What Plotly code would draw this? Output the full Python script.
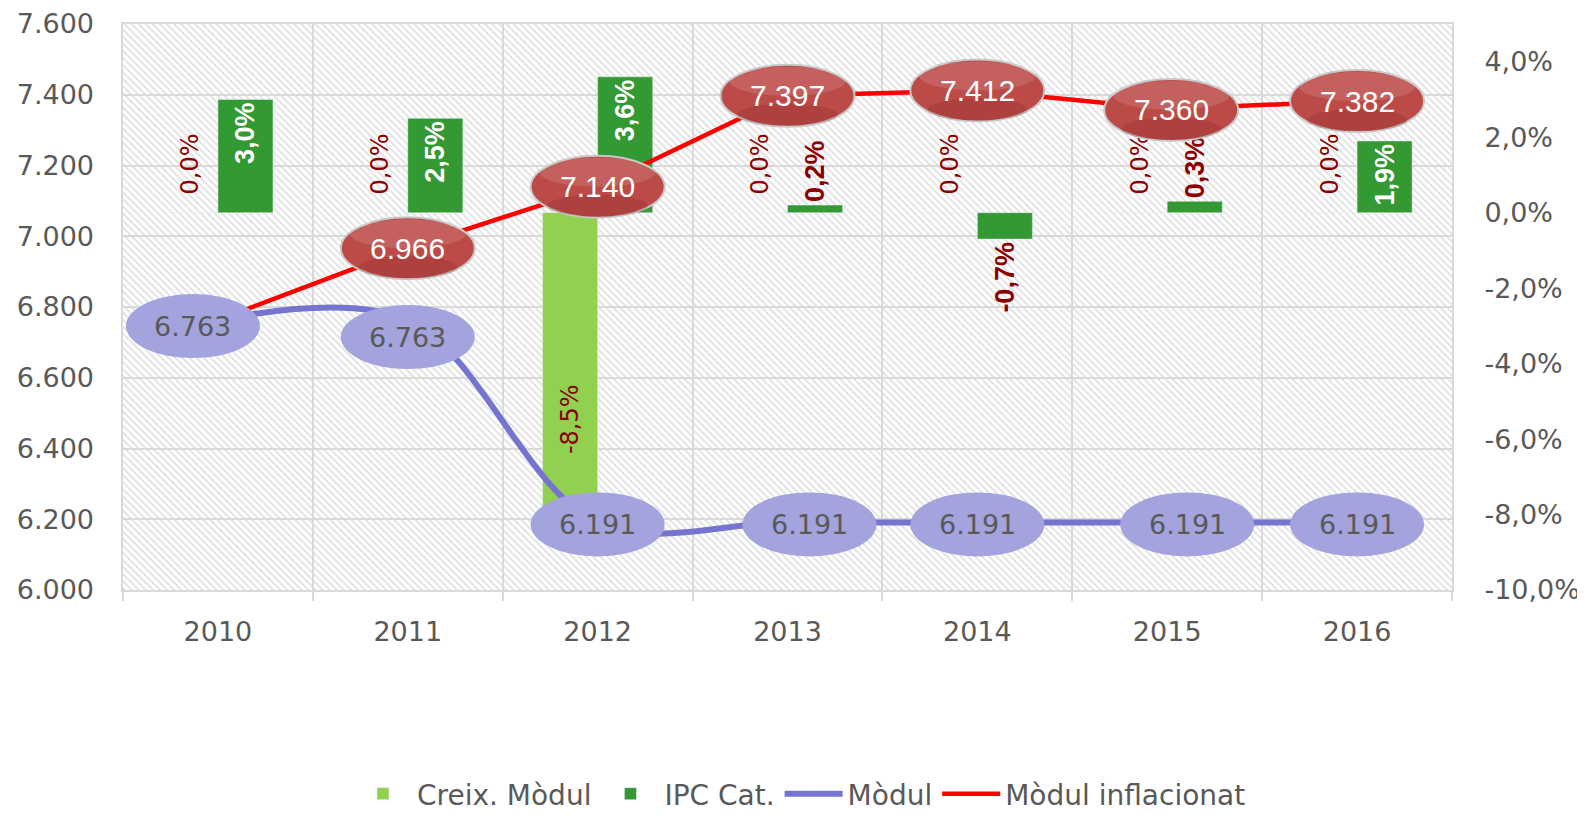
import base64
import plotly.graph_objects as go

# ---------------- data ----------------
years = ["2010", "2011", "2012", "2013", "2014", "2015", "2016"]
creix_modul = [0.0, 0.0, -8.5, 0.0, 0.0, 0.0, 0.0]          # %
ipc_cat = [3.0, 2.5, 3.6, 0.2, -0.7, 0.3, 1.9]               # %
modul = [6763, 6763, 6191, 6191, 6191, 6191, 6191]
modul_inflacionat = [6763, 6966, 7140, 7397, 7412, 7360, 7382]
left_ticks = [6000, 6200, 6400, 6600, 6800, 7000, 7200, 7400, 7600]
right_ticks = [-10, -8, -6, -4, -2, 0, 2, 4]

# ---------------- styles ----------------
FONT = "DejaVu Sans"
GREY_TXT = "#595959"
GRID = "#D9D9D9"
DARKRED = "#8B0000"
modul_label_dx = [-25, 0, 0, 22, 0, 20, 0]    # pixel offsets of the data labels
modul_label_dy = [6, 17, 2, 2, 2, 2, 2]       # (positive = down)
infl_label_dx = [0, 0, 0, 0, 0, 4, 0]
infl_label_dy = [0, 0, 0, 0, 0, 1, 0]
PAD_ZERO = "\u00a0\u00a0"                      # extra gap for labels of zero bars
PAD_INSIDE = "\u00a0" * 10                     # lifts the inside label of the negative bar


def pct(v):
    return f"{v:.1f}%".replace(".", ",")


def thou(v):
    return f"{v:,}".replace(",", ".")


fig = go.Figure()

fig.add_trace(go.Bar(
    name="Creix. Mòdul", x=years, y=creix_modul, yaxis="y", marker_color="#92D050",
    text=[(PAD_ZERO + pct(v)) if v == 0 else (PAD_INSIDE + pct(v)) for v in creix_modul], textangle=-90,
    textposition=["inside" if abs(v) >= 1 else "outside" for v in creix_modul],
    insidetextanchor="end", constraintext="none", cliponaxis=False,
    textfont=dict(family=FONT, size=24, color=DARKRED),
))
fig.add_trace(go.Bar(
    name="IPC Cat.", x=years, y=ipc_cat, yaxis="y", marker_color="#339933",
    text=[pct(v) for v in ipc_cat], textangle=-90,
    textposition=["inside" if abs(v) >= 1 else "outside" for v in ipc_cat],
    insidetextanchor="end", constraintext="none", cliponaxis=False,
    insidetextfont=dict(family="Liberation Sans", size=27, color="white", weight="bold"),
    outsidetextfont=dict(family="Liberation Sans", size=27, color=DARKRED, weight="bold"),
))
fig.add_trace(go.Scatter(
    name="Mòdul", x=years, y=modul, yaxis="y2", mode="lines",
    line=dict(color="#7575D0", width=6, shape="spline", smoothing=1),
))
fig.add_trace(go.Scatter(
    name="Mòdul inflacionat", x=years, y=modul_inflacionat, yaxis="y2", mode="lines",
    line=dict(color="#FF0000", width=4.5),
))

shapes = []
annotations = []
# inflated labels (only where different from the module value)
for i, (v, m) in enumerate(zip(modul_inflacionat, modul)):
    if v == m:
        continue
    dx, dy = infl_label_dx[i], infl_label_dy[i]
    shapes.append(dict(type="circle", xref="x", yref="y2", xsizemode="pixel", ysizemode="pixel",
                       xanchor=i, yanchor=v, x0=dx - 67, x1=dx + 67, y0=-dy - 31, y1=-dy + 31,
                       fillcolor="#BC4A47", line=dict(color="#C8C8C8", width=2), layer="above"))
    shapes.append(dict(type="circle", xref="x", yref="y2", xsizemode="pixel", ysizemode="pixel",
                       xanchor=i, yanchor=v, x0=dx - 58, x1=dx + 58, y0=-dy + 0, y1=-dy + 29,
                       fillcolor="rgba(255,255,255,0.13)", line=dict(width=0), layer="above"))
    shapes.append(dict(type="circle", xref="x", yref="y2", xsizemode="pixel", ysizemode="pixel",
                       xanchor=i, yanchor=v, x0=dx - 50, x1=dx + 50, y0=-dy - 30, y1=-dy - 8,
                       fillcolor="rgba(110,20,20,0.18)", line=dict(width=0), layer="above"))
    annotations.append(dict(x=i, y=v, xref="x", yref="y2", text=thou(v), showarrow=False,
                            xshift=dx, yshift=-dy, font=dict(family="Liberation Sans", size=30, color="white")))
for i, v in enumerate(modul):
    dx, dy = modul_label_dx[i], modul_label_dy[i]
    shapes.append(dict(type="circle", xref="x", yref="y2", xsizemode="pixel", ysizemode="pixel",
                       xanchor=i, yanchor=v, x0=dx - 67, x1=dx + 67, y0=-dy - 32, y1=-dy + 32,
                       fillcolor="#A3A3DE", line=dict(width=0), layer="above"))
    annotations.append(dict(x=i, y=v, xref="x", yref="y2", text=thou(v), showarrow=False,
                            xshift=dx, yshift=-dy, font=dict(family=FONT, size=27, color=GREY_TXT)))

# hatched plot background
W, H = 1329, 566
svg = (f'<svg xmlns="http://www.w3.org/2000/svg" width="{W}" height="{H}">'
       '<defs><pattern id="p" width="5" height="5" patternUnits="userSpaceOnUse" patternTransform="rotate(-45)">'
       '<rect width="5" height="5" fill="white"/>'
       '<line x1="1" y1="0" x2="1" y2="5" stroke="#D6D6D6" stroke-width="1.3"/></pattern></defs>'
       f'<rect width="{W}" height="{H}" fill="url(#p)"/></svg>')
img_src = "data:image/svg+xml;base64," + base64.b64encode(svg.encode()).decode()

FIG_W, FIG_H = 1577, 814   # page body has an 8px margin
ML, MR, MT, MB = 115, 133, 16, 232
fig.update_layout(
    width=FIG_W, height=FIG_H,
    margin=dict(l=ML, r=MR, t=MT, b=MB, autoexpand=False),
    paper_bgcolor="white", plot_bgcolor="white",
    barmode="group", bargap=0.42, bargroupgap=0,
    font=dict(family=FONT, color=GREY_TXT, size=27),
    showlegend=True,
    legend=dict(orientation="h", x=(792 - ML) / (FIG_W - ML - MR), xanchor="center",
                y=1 - (786 - MT) / (FIG_H - MT - MB), yanchor="middle",
                itemwidth=58, font=dict(family=FONT, size=28, color=GREY_TXT), traceorder="normal",
                bgcolor="rgba(0,0,0,0)"),
    xaxis=dict(type="category", tickson="boundaries", showgrid=True, gridcolor=GRID, gridwidth=2,
               showline=True, linecolor=GRID, linewidth=2, mirror=True, automargin=False,
               ticks="outside", ticklen=9, tickcolor=GRID, tickwidth=2,
               tickfont=dict(family=FONT, size=27, color=GREY_TXT), ticklabelstandoff=17),
    yaxis=dict(side="right", range=[-10, 5], tickvals=right_ticks, ticktext=[pct(v) for v in right_ticks],
               showgrid=False, zeroline=False, showline=True, linecolor=GRID, linewidth=2, mirror=True,
               automargin=False, ticks="", tickfont=dict(family=FONT, size=27, color=GREY_TXT),
               ticklabelstandoff=25),
    yaxis2=dict(overlaying="y", side="left", range=[6000, 7600], tickvals=left_ticks,
                ticktext=[thou(v) for v in left_ticks], showgrid=True, gridcolor=GRID, gridwidth=2,
                automargin=False, zeroline=False, ticks="", tickfont=dict(family=FONT, size=27, color=GREY_TXT),
                ticklabelstandoff=28),
    shapes=shapes, annotations=annotations,
    images=[dict(source=img_src, xref="paper", yref="paper", x=0, y=1, sizex=1, sizey=1,
                 xanchor="left", yanchor="top", sizing="stretch", layer="below")],
)

fig.write_html("out.html")
